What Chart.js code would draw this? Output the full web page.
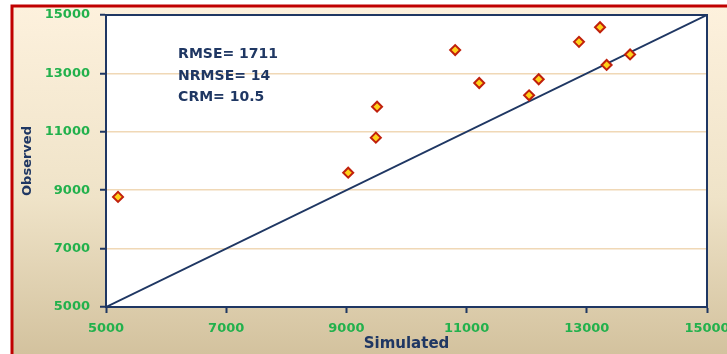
<!DOCTYPE html>
<html>
<head>
<meta charset="utf-8">
<script src="https://cdn.jsdelivr.net/npm/chart.js@4/dist/chart.umd.min.js"></script>
<style>
  html, body { margin: 0; padding: 0; background: #fff; }
  #wrap { width: 727px; height: 354px; }
</style>
</head>
<body>
<div id="wrap"><canvas id="c" width="727" height="354"></canvas></div>
<script>
// values
const simulated = [5200, 9030, 9490, 9510, 10810, 11210, 12040, 12200, 12870, 13220, 13330, 13720];
const observed  = [8770, 9600, 10800, 11860, 13800, 12670, 12250, 12800, 14080, 14580, 13290, 13650];
const oneToOne  = [5000, 15000];   // 1:1 line
const statLines = ['RMSE= 1711', 'NRMSE= 14', 'CRM= 10.5'];

const navy = '#1f3763';
const green = '#22b14c';
const font = 'DejaVu Sans';

// background, red frame and white plot area
const frame = {
  id: 'frame',
  beforeDraw(chart) {
    const { ctx, chartArea: a } = chart;
    ctx.save();
    ctx.fillStyle = '#fff';
    ctx.fillRect(0, 0, chart.width, chart.height);
    const g = ctx.createLinearGradient(0, 6, 0, chart.height);
    g.addColorStop(0, '#fdf1dd');
    g.addColorStop(0.55, '#efe3c8');
    g.addColorStop(1, '#d3c29e');
    ctx.fillStyle = g;
    ctx.fillRect(12, 6, chart.width - 12, chart.height - 6);
    ctx.strokeStyle = '#c00000';
    ctx.lineWidth = 3;
    ctx.beginPath();
    ctx.moveTo(12, chart.height + 2);
    ctx.lineTo(12, 6);
    ctx.lineTo(chart.width + 2, 6);
    ctx.stroke();
    ctx.fillStyle = '#fff';
    ctx.fillRect(a.left, a.top, a.right - a.left, a.bottom - a.top);
    ctx.restore();
  },
  afterDatasetsDraw(chart) {
    const { ctx, chartArea: a } = chart;
    ctx.save();
    ctx.strokeStyle = navy;
    ctx.lineWidth = 2;
    ctx.beginPath();
    ctx.moveTo(a.left, a.top);
    ctx.lineTo(a.right, a.top);
    ctx.lineTo(a.right, a.bottom);
    ctx.stroke();
    ctx.restore();
  },
  afterDraw(chart) {
    const { ctx, scales } = chart;
    const x = scales.x.getPixelForValue(6200);
    const y = scales.y.getPixelForValue(13650);
    ctx.save();
    ctx.fillStyle = navy;
    ctx.font = 'bold 14px "' + font + '"';
    ctx.textBaseline = 'middle';
    statLines.forEach((t, i) => ctx.fillText(t, x, y + i * 21.5));
    ctx.restore();
  }
};

new Chart(document.getElementById('c'), {
  type: 'scatter',
  data: {
    datasets: [
      {
        label: 'Observed',
        data: simulated.map((s, i) => ({ x: s, y: observed[i] })),
        pointStyle: 'rectRot',
        pointRadius: 5,
        pointBorderWidth: 2,
        pointBackgroundColor: '#ffd21a',
        pointBorderColor: '#c0200c',
        order: 0
      },
      {
        label: '1:1',
        data: oneToOne.map(v => ({ x: v, y: v })),
        showLine: true,
        borderColor: navy,
        borderWidth: 2,
        pointRadius: 0,
        order: 1
      }
    ]
  },
  options: {
    responsive: false,
    animation: false,
    layout: { padding: { left: 12, top: 15, right: 0, bottom: 0 } },
    plugins: {
      legend: { display: false },
      tooltip: { enabled: false }
    },
    scales: {
      x: {
        min: 5000,
        max: 15000,
        afterFit: s => { s.height = 47; s.paddingRight = 20; },
        ticks: {
          stepSize: 2000,
          padding: 8,
          color: green,
          font: { family: font, size: 13, weight: 'bold' },
          callback: v => v
        },
        grid: { drawOnChartArea: false, tickLength: 6, tickColor: navy, tickWidth: 2 },
        border: { color: navy, width: 2 },
        title: {
          display: true,
          text: 'Simulated',
          color: navy,
          padding: { top: 0, bottom: 1 },
          font: { family: font, size: 15, weight: 'bold' }
        }
      },
      y: {
        min: 5000,
        max: 15000,
        afterFit: s => { s.width = 94; s.paddingTop = 0; },
        ticks: {
          stepSize: 2000,
          padding: 10,
          color: green,
          font: { family: font, size: 13, weight: 'bold' },
          callback: v => v
        },
        grid: {
          color: ctx => (ctx.tick && (ctx.tick.value === 5000 || ctx.tick.value === 15000)) ? 'rgba(0,0,0,0)' : '#f0d8b6',
          lineWidth: 1.5,
          tickLength: 6,
          tickColor: navy,
          tickWidth: 2
        },
        border: { color: navy, width: 2 },
        title: {
          display: true,
          text: 'Observed',
          color: navy,
          padding: { top: 8, bottom: 0 },
          font: { family: font, size: 13, weight: 'bold' }
        }
      }
    }
  },
  plugins: [frame]
});
</script>
</body>
</html>
